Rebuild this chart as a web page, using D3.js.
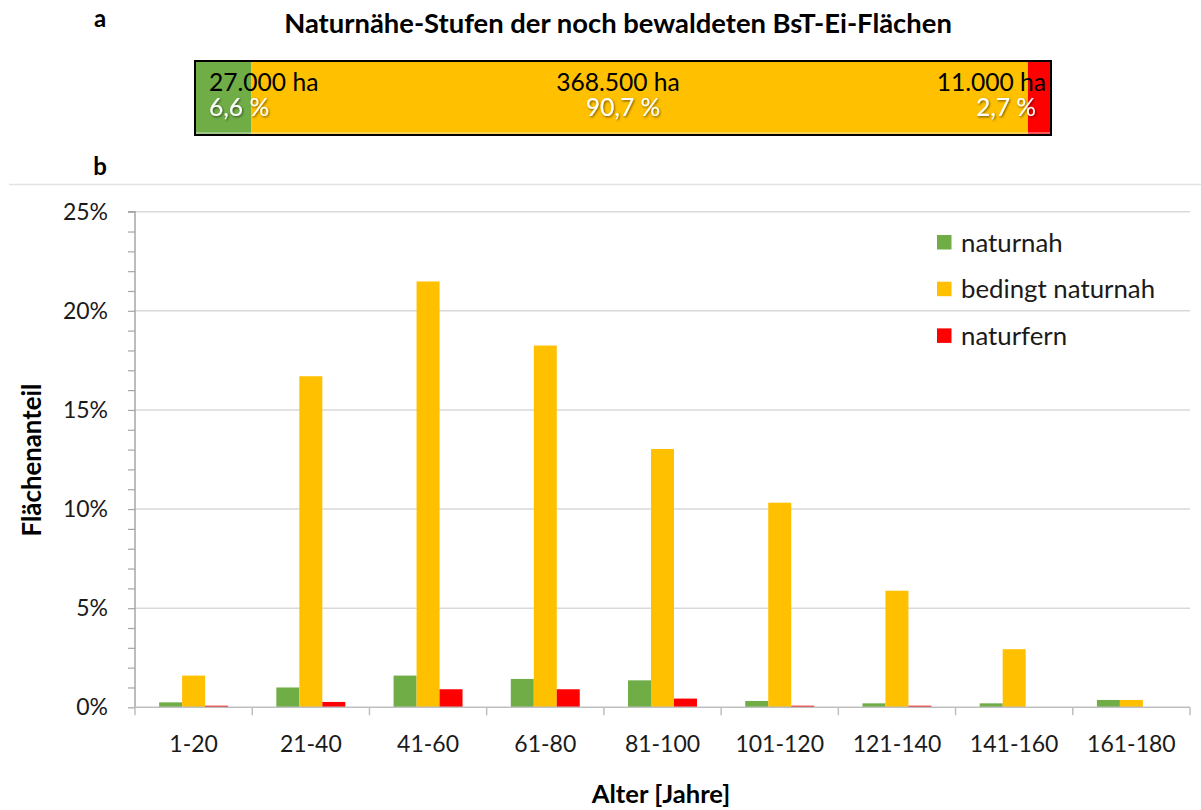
<!DOCTYPE html>
<html lang="de">
<head>
<meta charset="utf-8">
<title>Naturnähe-Stufen der noch bewaldeten BsT-Ei-Flächen</title>
<script src="https://cdn.jsdelivr.net/npm/d3@7"></script>
<style>
  html, body { margin: 0; padding: 0; background: #fff; }
  svg { display: block; font-family: Lato, "Open Sans", sans-serif; }
</style>
</head>
<body>
<svg id="chart" width="1201" height="810"></svg>
<script>
// --- Teil a: Gesamtfläche nach Naturnähe-Stufe ---
const stufen = ["naturnah", "bedingt naturnah", "naturfern"];
const flaecheHa = [27000, 368500, 11000];
const anteilProzent = [6.6, 90.7, 2.7];

// --- Teil b: Flächenanteil nach Altersklasse (in %) ---
const altersklassen = ["1-20", "21-40", "41-60", "61-80", "81-100", "101-120", "121-140", "141-160", "161-180"];
const naturnah = [0.25, 1.0, 1.6, 1.43, 1.36, 0.32, 0.2, 0.2, 0.37];
const bedingtNaturnah = [1.6, 16.7, 21.48, 18.25, 13.03, 10.32, 5.88, 2.93, 0.37];
const naturfern = [0.08, 0.27, 0.91, 0.91, 0.44, 0.08, 0.08, 0, 0];
const yTicks = [0, 5, 10, 15, 20, 25];

const farben = ["#70AD47", "#FFC000", "#FF0000"];
const serien = [naturnah, bedingtNaturnah, naturfern];

const de = d3.formatLocale({ decimal: ",", thousands: ".", grouping: [3], currency: ["", " €"] });
const fmtHa = de.format(",.0f");
const fmtPct = de.format(".1f");

const svg = d3.select("#chart");

// Schatten für die weißen Prozentangaben
const defs = svg.append("defs");
defs.append("filter").attr("id", "schatten").attr("x", "-20%").attr("y", "-20%").attr("width", "140%").attr("height", "140%")
  .append("feDropShadow").attr("dx", 1).attr("dy", 1.2).attr("stdDeviation", 0.9)
  .attr("flood-color", "#000").attr("flood-opacity", 0.55);

// Panel-Buchstaben und Titel
svg.append("text").attr("x", 100).attr("y", 27).attr("text-anchor", "middle")
  .attr("font-weight", 700).attr("font-size", 24).text("a");
svg.append("text").attr("x", 100).attr("y", 175).attr("text-anchor", "middle")
  .attr("font-weight", 700).attr("font-size", 24).text("b");
svg.append("text").attr("x", 618).attr("y", 33).attr("text-anchor", "middle")
  .attr("font-weight", 700).attr("font-size", 27.4)
  .text("Naturnähe-Stufen der noch bewaldeten BsT-Ei-Flächen");

// Trennlinie über Teil b
svg.append("line").attr("x1", 9).attr("x2", 1201).attr("y1", 184.5).attr("y2", 184.5)
  .attr("stroke", "#e3e3e3").attr("stroke-width", 1.5);

// ---------- Teil a: gestapelter Balken ----------
const barTop = 61, barH = 74;
const xa = d3.scaleLinear().domain([0, d3.sum(anteilProzent)]).range([195, 1051]);
const starts = d3.cumsum([0, ...anteilProzent]);
const segs = stufen.map((s, i) => ({ s, ha: flaecheHa[i], p: anteilProzent[i], a: starts[i], b: starts[i] + anteilProzent[i], c: farben[i] }));

const ga = svg.append("g");
ga.selectAll("rect.seg").data(segs).join("rect").attr("class", "seg")
  .attr("x", d => xa(d.a)).attr("width", d => xa(d.b) - xa(d.a))
  .attr("y", barTop).attr("height", barH).attr("fill", d => d.c);
ga.append("line").attr("x1", xa(0)).attr("x2", xa(100)).attr("y1", barTop + barH - 2).attr("y2", barTop + barH - 2)
  .attr("stroke", "#f3f3f3").attr("stroke-opacity", 0.7).attr("stroke-width", 1.2);
ga.append("rect").attr("x", xa(0)).attr("y", barTop).attr("width", xa(100) - xa(0)).attr("height", barH)
  .attr("fill", "none").attr("stroke", "#000").attr("stroke-width", 2);

// Beschriftung: Fläche (schwarz) und Anteil (weiß)
const labelPos = [
  { anchor: "start", xHa: xa(0) + 14, xP: xa(0) + 14 },
  { anchor: "middle", xHa: (xa(0) + xa(100)) / 2 - 5, xP: (xa(0) + xa(100)) / 2 },
  { anchor: "end", xHa: xa(100) - 5, xP: xa(100) - 15 }
];
segs.forEach((d, i) => {
  const lp = labelPos[i];
  ga.append("text").attr("x", lp.xHa).attr("y", 91).attr("text-anchor", lp.anchor)
    .attr("font-size", 24.6).attr("fill", "#000").text(fmtHa(d.ha) + " ha");
  ga.append("text").attr("x", lp.xP).attr("y", 115.5).attr("text-anchor", lp.anchor)
    .attr("font-size", 24.6).attr("fill", "#fff").attr("filter", "url(#schatten)")
    .text(fmtPct(d.p) + " %");
});

// ---------- Teil b: gruppiertes Säulendiagramm ----------
const pLeft = 135, pRight = 1190, pTop = 211.7, pBottom = 707.3;
const x0 = d3.scaleBand().domain(altersklassen).range([pLeft, pRight]).paddingInner(0).paddingOuter(0);
const x1 = d3.scaleBand().domain(d3.range(serien.length)).range([0, x0.bandwidth()]).paddingInner(0).paddingOuter(1.05);
const y = d3.scaleLinear().domain([0, 25]).range([pBottom, pTop]);

const gb = svg.append("g");

// Gitterlinien
gb.append("g").selectAll("line").data(yTicks.filter(t => t > 0)).join("line")
  .attr("x1", pLeft).attr("x2", pRight).attr("y1", d => y(d)).attr("y2", d => y(d))
  .attr("stroke", "#d9d9d9").attr("stroke-width", 1.5);

// Säulen
const daten = altersklassen.map((k, i) => ({ k, werte: serien.map((s, j) => ({ j, v: s[i] })) }));
gb.append("g").selectAll("g").data(daten).join("g")
  .attr("transform", d => `translate(${x0(d.k)},0)`)
  .selectAll("rect").data(d => d.werte).join("rect")
  .attr("x", d => x1(d.j)).attr("width", x1.bandwidth())
  .attr("y", d => y(d.v)).attr("height", d => y(0) - y(d.v))
  .attr("fill", d => farben[d.j]);

// y-Achse mit Zwischenstrichen je 1 %
const yAxis = d3.axisLeft(y).tickValues(d3.range(0, 26, 1)).tickSize(7)
  .tickFormat(d => yTicks.includes(d) ? d + "%" : "").tickPadding(20);
const gy = gb.append("g").attr("transform", `translate(${pLeft},0)`).call(yAxis);
gy.select(".domain").attr("stroke", "#a6a6a6").attr("stroke-width", 1.5).attr("d", `M-7,${pTop}H0V${pBottom}`);
gy.selectAll(".tick line").attr("stroke", "#a6a6a6").attr("stroke-width", 1.2);
gy.selectAll(".tick text").attr("font-size", 23).attr("fill", "#1a1a1a").attr("font-family", "Lato, sans-serif");

// x-Achse: Striche an den Klassengrenzen
const gx = gb.append("g").attr("transform", `translate(0,${pBottom})`);
gx.append("line").attr("x1", pLeft).attr("x2", pRight).attr("stroke", "#bfbfbf").attr("stroke-width", 1.5);
const grenzen = altersklassen.map(k => x0(k)).concat([pRight]);
gx.selectAll("line.tk").data(grenzen).join("line").attr("class", "tk")
  .attr("x1", d => d).attr("x2", d => d).attr("y1", 0).attr("y2", 8)
  .attr("stroke", "#bfbfbf").attr("stroke-width", 1.5);
gx.selectAll("text").data(altersklassen).join("text")
  .attr("x", d => x0(d) + x0.bandwidth() / 2).attr("y", 752 - pBottom)
  .attr("text-anchor", "middle").attr("font-size", 23).attr("fill", "#1a1a1a").text(d => d);

// Achsentitel
svg.append("text").attr("x", 661).attr("y", 803).attr("text-anchor", "middle")
  .attr("font-weight", 700).attr("font-size", 25.6).text("Alter [Jahre]");
svg.append("text").attr("transform", "translate(41,460) rotate(-90)").attr("text-anchor", "middle")
  .attr("font-weight", 700).attr("font-size", 25.8).text("Flächenanteil");

// Legende
const legende = svg.append("g").attr("transform", "translate(937,235)");
const li = legende.selectAll("g").data(stufen).join("g").attr("transform", (d, i) => `translate(0,${i * 46.7})`);
li.append("rect").attr("width", 14.5).attr("height", 14.5).attr("fill", (d, i) => farben[i]);
li.append("text").attr("x", 24).attr("y", 7.5).attr("dy", "0.35em").attr("font-size", 25.8).attr("fill", "#1a1a1a").text(d => d);
</script>
</body>
</html>
